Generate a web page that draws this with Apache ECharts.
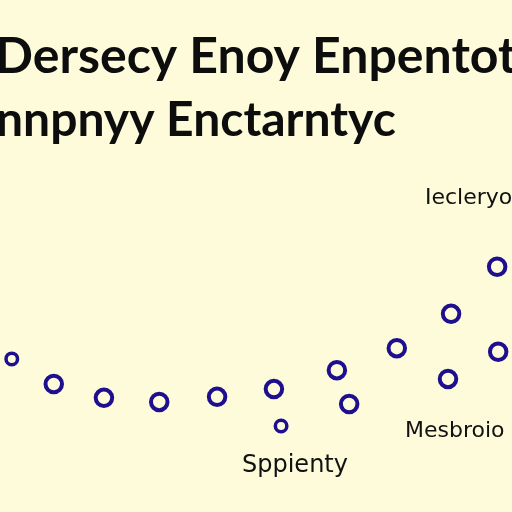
<!DOCTYPE html>
<html><head><meta charset="utf-8">
<script src="https://cdn.jsdelivr.net/npm/echarts@6/dist/echarts.min.js"></script>
<style>html,body{margin:0;padding:0;background:#fdfbda;}#c{width:512px;height:512px;}</style>
</head><body><div id="c"></div>
<script>
const titleLines = ["Dersecy Enoy Enpentot", "nnpnyy Enctarntyc"];
const labels = ["Iecleryo", "Mesbroio", "Sppienty"];
const xValues = [2.3, 10.5, 20.3, 31.1, 42.4, 53.5, 54.9, 65.8, 68.2, 77.5, 87.5, 88.1, 97.3, 97.1];
const yValues = [29.9, 25.0, 22.3, 21.5, 22.5, 24.0, 16.8, 27.7, 21.1, 32.0, 26.0, 38.7, 31.3, 47.9];
const sizes   = ["s", "l", "l", "l", "l", "l", "s", "l", "l", "l", "l", "l", "l", "l"];

const chart = echarts.init(document.getElementById('c'), null, {renderer: 'canvas'});
const pts = xValues.map((x, i) => ({
  value: [x, yValues[i]],
  symbolSize: sizes[i] === 's' ? 11.5 : 16.5,
  itemStyle: {borderWidth: sizes[i] === 's' ? 3.5 : 4}
}));
const tfont = 'Lato, "Open Sans", sans-serif';
const lfont = '"DejaVu Sans", sans-serif';
chart.setOption({
  backgroundColor: '#fdfbda',
  animation: false,
  grid: {left: 0, right: 0, top: 0, bottom: 0},
  xAxis: {type: 'value', min: 0, max: 100, show: false},
  yAxis: {type: 'value', min: 0, max: 100, show: false},
  graphic: [
    {type: 'text', left: -5, top: 32, style: {text: titleLines[0], font: '700 50px ' + tfont, fill: '#0d0d0d'}},
    {type: 'text', left: -4, top: 97, style: {text: titleLines[1], font: '700 48px ' + tfont, fill: '#0d0d0d'}},
    {type: 'text', left: 425, top: 187, style: {text: labels[0], font: '22px ' + lfont, fill: '#111'}},
    {type: 'text', left: 405, top: 420, style: {text: labels[1], font: '22px ' + lfont, fill: '#111'}},
    {type: 'text', left: 242, top: 454, style: {text: labels[2], font: '24px ' + lfont, fill: '#111'}}
  ],
  series: [{
    type: 'scatter',
    symbol: 'circle',
    data: pts,
    itemStyle: {color: 'rgba(0,0,0,0)', borderColor: '#1e0f8f', opacity: 1}
  }]
});
</script></body></html>
